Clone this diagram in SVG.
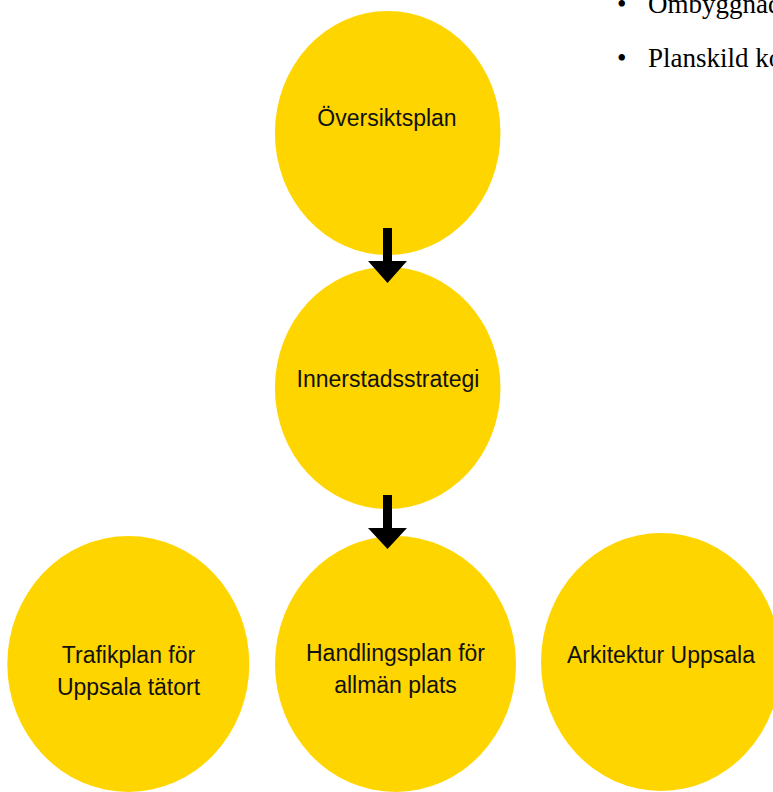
<svg xmlns="http://www.w3.org/2000/svg" width="773" height="792" viewBox="0 0 773 792">
<style>
.node{fill:#FFD500;}
.lbl{font-family:"Liberation Sans",Arial,sans-serif;font-size:23px;fill:#111;text-anchor:middle;}
.bul{font-family:"Liberation Serif","Times New Roman",serif;font-size:27px;fill:#000;}
.arrow{fill:#000;}
</style>
<rect width="773" height="792" fill="#fff"/>
<g id="bullets">
<text class="bul" x="617" y="13">•</text>
<text class="bul" x="648" y="13">Ombyggnad</text>
<text class="bul" x="617" y="67">•</text>
<text class="bul" x="648" y="67">Planskild ko</text>
</g>
<g id="node-oversiktsplan">
<ellipse class="node" cx="387.7" cy="133" rx="112.8" ry="122"/>
<text class="lbl" x="387" y="126">Översiktsplan</text>
</g>
<g id="node-innerstadsstrategi">
<ellipse class="node" cx="387.7" cy="388" rx="112.8" ry="121"/>
<text class="lbl" x="388" y="387">Innerstadsstrategi</text>
</g>
<g id="node-trafikplan">
<ellipse class="node" cx="128.3" cy="664" rx="121" ry="128"/>
<text class="lbl" x="128.5" y="663">Trafikplan för</text>
<text class="lbl" x="128.5" y="695">Uppsala tätort</text>
</g>
<g id="node-handlingsplan">
<ellipse class="node" cx="395.5" cy="664" rx="120.5" ry="128"/>
<text class="lbl" x="395.5" y="661">Handlingsplan för</text>
<text class="lbl" x="395.5" y="693">allmän plats</text>
</g>
<g id="node-arkitektur">
<ellipse class="node" cx="661" cy="662" rx="120" ry="129"/>
<text class="lbl" x="661" y="663">Arkitektur Uppsala</text>
</g>
<g id="connectors">
<polygon class="arrow" points="383,228 392,228 392,261 407,261 387.5,283 368,261 383,261"/>
<polygon class="arrow" points="383,495 392,495 392,528 407,528 387.5,549 368,528 383,528"/>
</g>
</svg>
